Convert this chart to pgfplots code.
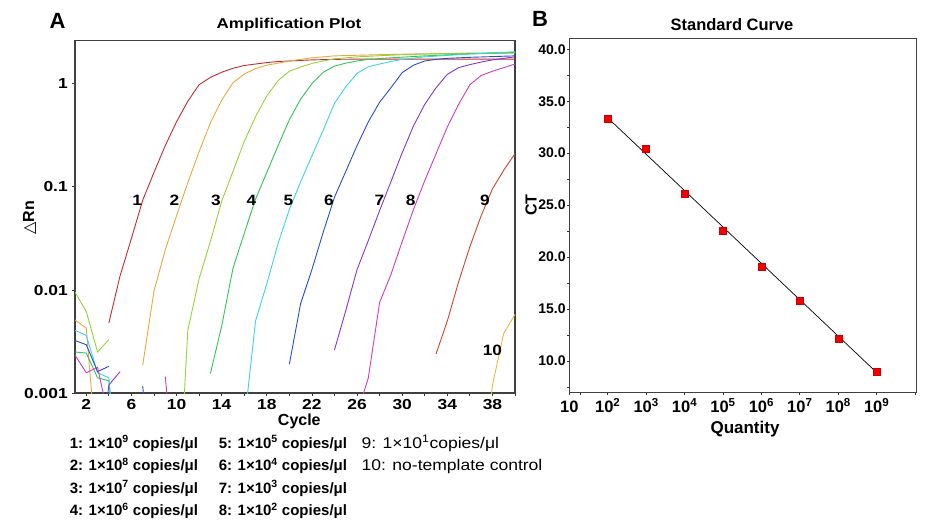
\documentclass[border=0pt]{standalone}
\usepackage{pgfplots}
\pgfplotsset{compat=1.18}
\usepackage{fontspec}
\setmainfont{Liberation Sans}
\newfontfamily\dejavu{DejaVu Sans}

\definecolor{cOne}{RGB}{192,45,45}
\definecolor{cTwo}{RGB}{232,168,60}
\definecolor{cThree}{RGB}{150,210,60}
\definecolor{cFour}{RGB}{50,196,84}
\definecolor{cFive}{RGB}{60,212,226}
\definecolor{cSix}{RGB}{40,78,200}
\definecolor{cSeven}{RGB}{134,52,212}
\definecolor{cEight}{RGB}{208,60,188}
\definecolor{cNine}{RGB}{208,66,48}
\definecolor{cTen}{RGB}{230,188,60}
\definecolor{ptred}{RGB}{240,0,0}
\tikzset{lbl/.style={font=\bfseries\fontsize{15}{16}\selectfont, xscale=1.15}}

\begin{document}
\begin{tikzpicture}
\useasboundingbox (0pt,0pt) rectangle (928pt,-519pt);

% ---------- A: amplification plot ----------
\begin{axis}[
  at={(75pt,-393.2pt)}, anchor=south west,
  scale only axis, width=440pt, height=352.7pt,
  xmin=1, xmax=40, ymode=log, ymin=0.001, ymax=2.62,
  xtick={2,6,...,38}, minor xtick={4,8,...,40},
  xticklabels={2,6,10,14,18,22,26,30,34,38},
  ytick={0.001,0.01,0.1,1}, yticklabels={0.001,0.01,0.1,1},
  yminorticks=false,
  /pgf/number format/assume math mode=true,
  tick align=outside, tick pos=left,
  major tick length=3pt, minor tick length=2.5pt,
  tick style={black!80, line width=0.8pt},
  axis line style={black!75, line width=1.5pt},
  tick label style={font=\bfseries\fontsize{14.5}{16}\selectfont, xscale=1.2},
  every axis plot/.append style={line width=0.9pt},
]
% baseline noise, early cycles
\addplot[cTwo]   coordinates {(1,0.00513) (2,0.00427) (3,0.0002)};
\addplot[cThree] coordinates {(1,0.00955) (2,0.00617) (3,0.00251) (4,0.00331)};
\addplot[cFour]  coordinates {(1,0.00251) (2,0.00245) (3,0.00141) (4,0.00132) (5,0.0001)};
\addplot[cFive]  coordinates {(1,0.00407) (2,0.00363) (3,0.00158) (4,0.00141) (5,0.0001)};
\addplot[cSix]   coordinates {(1,0.00324) (2,0.00295) (3,0.00162) (4,0.00182)};
\addplot[cSix]   coordinates {(7,0.00117) (8,0.0001)};
\addplot[cSeven] coordinates {(3,0.0001) (4,0.0012) (5,0.00162)};
\addplot[cEight] coordinates {(1,0.00234) (2,0.00158) (3,0.00178) (4,0.00056)};
\addplot[cEight] coordinates {(9,0.00145) (10,0.0001)};
% 1: 1e9
\addplot[cOne] coordinates {(4,0.00479) (5,0.0138) (6,0.0316) (7,0.0741) (8,0.138) (9,0.251)
  (10,0.427) (11,0.676) (12,0.977) (13,1.15) (14,1.29) (15,1.41) (16,1.50) (17,1.55) (18,1.60)
  (19,1.64) (20,1.66) (22,1.70) (24,1.72) (26,1.73) (30,1.73) (35,1.73) (40,1.73)};
% 2: 1e8
\addplot[cTwo] coordinates {(7,0.00186) (8,0.00977) (9,0.0245) (10,0.0525) (11,0.110) (12,0.219)
  (13,0.417) (14,0.692) (15,1.02) (16,1.24) (17,1.40) (18,1.51) (19,1.58) (20,1.66) (22,1.78)
  (24,1.86) (28,1.91) (32,1.95) (36,1.97) (40,1.98)};
% 3: 1e7
\addplot[cThree] coordinates {(10,0.00004) (11,0.00407) (12,0.0129) (13,0.0295) (14,0.0724)
  (15,0.141) (16,0.275) (17,0.479) (18,0.759) (19,1.07) (20,1.32) (21,1.45) (22,1.57) (23,1.66)
  (24,1.74) (26,1.82) (30,1.91) (35,1.97) (40,2.00)};
% 4: 1e6
\addplot[cFour] coordinates {(13,0.00155) (14,0.00447) (15,0.0162) (16,0.0355) (17,0.0759)
  (18,0.138) (19,0.251) (20,0.447) (21,0.708) (22,1.00) (23,1.29) (24,1.48) (25,1.58) (26,1.66)
  (27,1.72) (29,1.78) (32,1.86) (36,1.95) (40,2.00)};
% 5: 1e5
\addplot[cFive] coordinates {(16,0.0005) (17,0.00501) (18,0.0115) (19,0.0282) (20,0.0603)
  (21,0.112) (22,0.200) (23,0.355) (24,0.646) (25,0.933) (26,1.26) (27,1.46) (28,1.55) (29,1.64)
  (30,1.72) (32,1.82) (35,1.91) (40,2.04)};
% 6: 1e4
\addplot[cSix] coordinates {(20,0.00191) (21,0.00741) (22,0.0158) (23,0.0363) (24,0.0794)
  (25,0.141) (26,0.251) (27,0.427) (28,0.661) (29,0.912) (30,1.28) (31,1.51) (32,1.66) (33,1.72)
  (34,1.76) (36,1.80) (40,1.86)};
% 7: 1e3
\addplot[cSeven] coordinates {(24,0.00263) (25,0.00631) (26,0.0158) (27,0.0302) (28,0.0589)
  (29,0.112) (30,0.214) (31,0.389) (32,0.631) (33,0.912) (34,1.23) (35,1.43) (36,1.53) (37,1.62)
  (38,1.70) (39,1.76) (40,1.82)};
% 8: 1e2
\addplot[cEight] coordinates {(26,0.00063) (27,0.00141) (28,0.00759) (29,0.0141) (30,0.0295)
  (31,0.0603) (32,0.115) (33,0.209) (34,0.380) (35,0.631) (36,0.977) (37,1.20) (38,1.32)
  (39,1.43) (40,1.55)};
% 9: 1e1
\addplot[cNine] coordinates {(33,0.0024) (34,0.00501) (35,0.0120) (36,0.0263) (37,0.0525)
  (38,0.0955) (39,0.145) (40,0.21)};
% 10: NTC
\addplot[cTen] coordinates {(37,0.0001) (38,0.0012) (39,0.0038) (40,0.0058)};

\node[lbl] at (axis cs:6.52,0.0745) {1};
\node[lbl] at (axis cs:9.81,0.0745) {2};
\node[lbl] at (axis cs:13.49,0.0745) {3};
\node[lbl] at (axis cs:16.63,0.0745) {4};
\node[lbl] at (axis cs:19.92,0.0745) {5};
\node[lbl] at (axis cs:23.50,0.0745) {6};
\node[lbl] at (axis cs:27.98,0.0745) {7};
\node[lbl] at (axis cs:30.76,0.0745) {8};
\node[lbl] at (axis cs:37.34,0.0745) {9};
\node[lbl] at (axis cs:38.0,0.00262) {10};
\end{axis}

\node[anchor=base, font=\bfseries\fontsize{22}{24}\selectfont] at (57.5pt,-28.7pt) {A};
\node[anchor=base, font=\bfseries\fontsize{14.2}{16}\selectfont, xscale=1.2] at (289pt,-28.7pt) {Amplification Plot};
\node[anchor=base, font=\bfseries\fontsize{16}{18}\selectfont] at (299.3pt,-425.3pt) {Cycle};
\node[anchor=base, rotate=90, font=\bfseries\fontsize{16}{18}\selectfont] at (34pt,-218pt) {{\dejavu\mdseries △}Rn};

% ---------- B: standard curve ----------
\begin{axis}[
  at={(569.3pt,-392.3pt)}, anchor=south west,
  scale only axis, width=347.4pt, height=354pt,
  xmode=log, xmin=10, xmax=1.1e10, ymin=7, ymax=41.05,
  xtick={1e1,2e1,1e2,1e3,1e4,1e5,1e6,1e7,1e8,1e9,1e10},
  xticklabels={10,,10\textsuperscript{2},10\textsuperscript{3},10\textsuperscript{4},
    10\textsuperscript{5},10\textsuperscript{6},10\textsuperscript{7},10\textsuperscript{8},
    10\textsuperscript{9},},
  xminorticks=false,
  ytick={10,15,...,40}, yticklabels={10.0,15.0,20.0,25.0,30.0,35.0,40.0},
  minor ytick={7.5,12.5,...,37.5},
  tick align=outside, tick pos=left,
  major tick length=2.5pt, minor tick length=2pt,
  tick style={black!80, line width=0.8pt},
  axis line style={black!75, line width=1.5pt},
  yticklabel style={font=\bfseries\fontsize{14}{16}\selectfont, inner xsep=1pt},
  xticklabel style={font=\bfseries\fontsize{16.5}{18}\selectfont, anchor=base, yshift=-18pt},
]
\addplot[black, line width=0.7pt] coordinates {(1e2,33.4) (1e9,8.9)};
\addplot[only marks, mark=square*, mark size=3.5pt,
  mark options={fill=ptred, draw=ptred!85!black, line width=0.4pt}]
  coordinates {(1e2,33.3) (1e3,30.4) (1e4,26.1) (1e5,22.5) (1e6,19.1) (1e7,15.8) (1e8,12.2) (1e9,9.0)};
\end{axis}

\node[anchor=base, font=\bfseries\fontsize{22}{24}\selectfont] at (540pt,-26.7pt) {B};
\node[anchor=base, font=\bfseries\fontsize{16.5}{18}\selectfont] at (732pt,-31pt) {Standard Curve};
\node[anchor=base, font=\bfseries\fontsize{17}{19}\selectfont] at (745pt,-433.3pt) {Quantity};
\node[anchor=base, rotate=90, font=\bfseries\fontsize{16}{18}\selectfont] at (536.7pt,-205pt) {CT};

% ---------- legend text ----------
\begin{scope}[every node/.style={anchor=base west, inner sep=0pt, font=\bfseries\fontsize{15}{17}\selectfont}]
\node at (69.6pt,-448pt)   {1: 1×10\textsuperscript{9} copies/μl};
\node at (69.6pt,-470.5pt) {2: 1×10\textsuperscript{8} copies/μl};
\node at (69.6pt,-493pt)   {3: 1×10\textsuperscript{7} copies/μl};
\node at (69.6pt,-515.5pt) {4: 1×10\textsuperscript{6} copies/μl};
\node at (218.6pt,-448pt)   {5: 1×10\textsuperscript{5} copies/μl};
\node at (218.6pt,-470.5pt) {6: 1×10\textsuperscript{4} copies/μl};
\node at (218.6pt,-493pt)   {7: 1×10\textsuperscript{3} copies/μl};
\node at (218.6pt,-515.5pt) {8: 1×10\textsuperscript{2} copies/μl};
\end{scope}
\begin{scope}[every node/.style={anchor=base west, inner sep=0pt, xscale=1.13, font=\fontsize{15.5}{17}\selectfont}]
\node at (361.4pt,-448pt)   {9: 1×10\textsuperscript{1}copies/μl};
\node at (361.4pt,-470.5pt) {10: no-template control};
\end{scope}
\end{tikzpicture}
\end{document}
